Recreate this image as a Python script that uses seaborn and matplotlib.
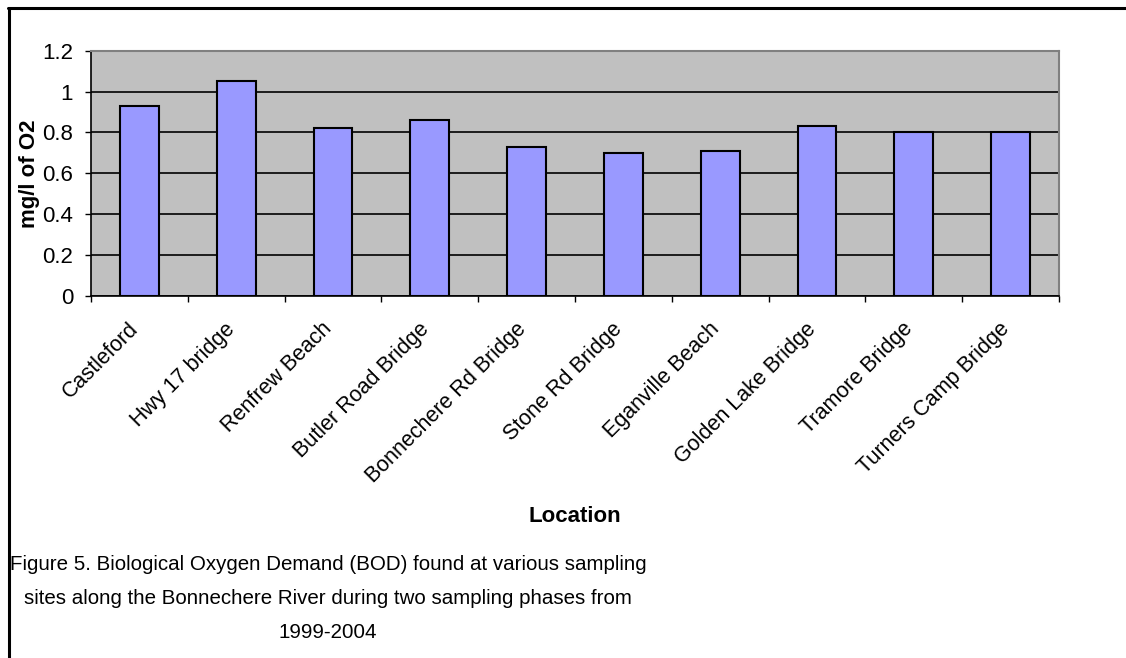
import matplotlib
matplotlib.use("Agg")
import matplotlib.pyplot as plt
import matplotlib.transforms as mtrans
import seaborn as sns
import pandas as pd
import numpy as np
from matplotlib.lines import Line2D

locations = ["Castleford", "Hwy 17 bridge", "Renfrew Beach", "Butler Road Bridge",
             "Bonnechere Rd Bridge", "Stone Rd Bridge", "Eganville Beach",
             "Golden Lake Bridge", "Tramore Bridge", "Turners Camp Bridge"]
bod = [0.93, 1.05, 0.82, 0.86, 0.73, 0.70, 0.71, 0.83, 0.80, 0.80]
yticks = [0, 0.2, 0.4, 0.6, 0.8, 1.0, 1.2]
ytick_labels = ["0", "0.2", "0.4", "0.6", "0.8", "1", "1.2"]

sns.set_style("white")
plt.rcParams['font.family'] = ['Liberation Sans', 'DejaVu Sans']
plt.rcParams['text.color'] = 'black'
plt.rcParams['axes.labelcolor'] = 'black'
plt.rcParams['xtick.color'] = 'black'
plt.rcParams['ytick.color'] = 'black'

df = pd.DataFrame({"Location": locations, "BOD": bod})

fig = plt.figure(figsize=(11.26, 6.58), dpi=100)
ax = fig.add_axes([91/1126, 1-296/658, (1059-91)/1126, (296-50.7)/658])
ax.set_facecolor("#C0C0C0")

sns.barplot(data=df, x="Location", y="BOD", color="#9999FF", width=0.4,
            edgecolor="black", linewidth=1.5, saturation=1, ax=ax, zorder=3)

ax.set_ylim(0, 1.2)
ax.set_xlim(-0.5, len(locations) - 0.5)
ax.set_yticks(yticks)
ax.set_yticklabels(ytick_labels, fontsize=16)
ax.yaxis.grid(True, color="black", linewidth=1.2, zorder=1)
ax.set_axisbelow(True)

ax.set_xticks(range(len(locations)))
ax.set_xticklabels(locations, rotation=45, ha="right", va="top",
                   rotation_mode="anchor", fontsize=15.5)
ax.tick_params(axis="x", which="major", length=0, pad=0)
offset = mtrans.ScaledTranslation(-0.115, -0.225, fig.dpi_scale_trans)
for lbl in ax.get_xticklabels():
    lbl.set_transform(lbl.get_transform() + offset)
ax.set_xticks(np.arange(-0.5, len(locations), 1.0), minor=True)
ax.tick_params(axis="x", which="minor", length=4.3, width=1, color="black",
               direction="out", bottom=True)
ax.tick_params(axis="y", length=4.3, width=1, color="black", direction="out",
               left=True, pad=8.5)

for s in ["top", "right"]:
    ax.spines[s].set_color("#808080")
    ax.spines[s].set_linewidth(1.5)
for s in ["left", "bottom"]:
    ax.spines[s].set_color("black")
    ax.spines[s].set_linewidth(1.2)

ax.set_xlabel("")
ax.set_ylabel("mg/l of O2", fontsize=16, fontweight="bold")
ax.yaxis.label.set_va("center")
ax.yaxis.set_label_coords((30 - 91) / 968, 0.5)

fig.text(575/1126, 1-516/658, "Location", ha="center", va="center",
         fontsize=16, fontweight="bold")
fig.text(328/1126, 1-598/658,
         "Figure 5. Biological Oxygen Demand (BOD) found at various sampling\n"
         "sites along the Bonnechere River during two sampling phases from\n"
         "1999-2004",
         ha="center", va="center", fontsize=14.8, linespacing=2.0)

# outer frame (top and left)
fig.add_artist(Line2D([8/1126, 1], [1-8/658, 1-8/658], transform=fig.transFigure,
                      color="black", linewidth=2.2))
fig.add_artist(Line2D([9/1126, 9/1126], [1-8/658, 0], transform=fig.transFigure,
                      color="black", linewidth=2.2))

fig.savefig("out.png", dpi=100, facecolor="white")
